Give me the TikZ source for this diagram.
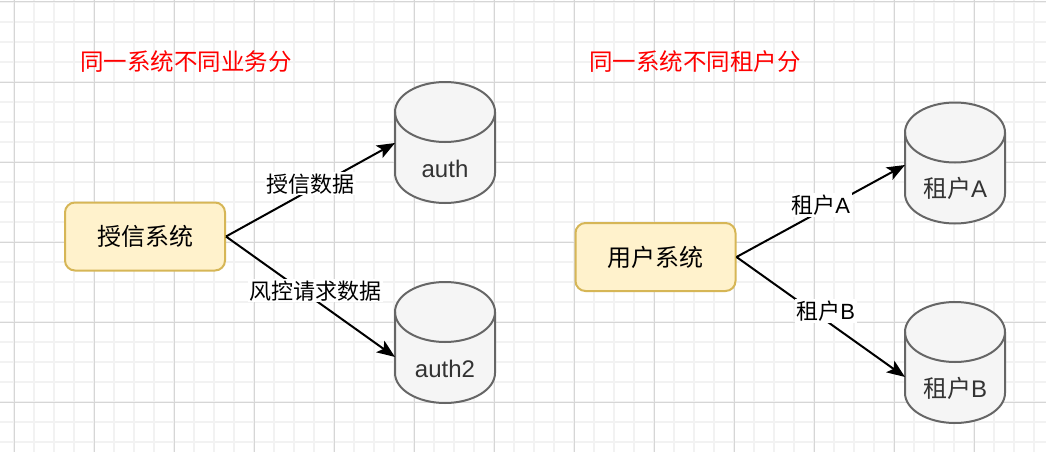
\documentclass[tikz,border=0pt]{standalone}
\usepackage{fontspec}
\setmainfont{Liberation Sans}
\newfontfamily\cjk{Noto Sans CJK SC}
\usepackage{tikz}
\usetikzlibrary{calc,arrows.meta}
\definecolor{note}{HTML}{FFF2CC}
\definecolor{noteedge}{HTML}{D6B656}
\definecolor{dbfill}{HTML}{F5F5F5}
\definecolor{dbedge}{HTML}{666666}
\definecolor{dbink}{HTML}{333333}
\definecolor{gridlt}{HTML}{F2F2F2}
\definecolor{griddk}{HTML}{D6D6D6}
\definecolor{alert}{HTML}{FF0000}

\tikzset{
  sysbox/.style={draw=noteedge, fill=note, line width=2pt, rounded corners=10pt,
    minimum width=160pt, minimum height=68pt, inner sep=0pt,
    font=\fontsize{24}{28}\selectfont\cjk},
  dbtext/.style={text=dbink, anchor=base, inner sep=0pt, font=\fontsize{24}{28}\selectfont},
  flow/.style={line width=2pt, -{Stealth[length=18pt,width=14pt,inset=4pt]}},
  flowlbl/.style={fill=white, inner sep=1.5pt, yshift=6pt, font=\fontsize{22}{26}\selectfont},
  heading/.style={text=alert, inner sep=0pt, font=\fontsize{23.5}{28}\selectfont\cjk},
  pics/dbcyl/.style={code={
    \filldraw[fill=dbfill, draw=dbedge, line width=2pt]
      (-50,30.5) -- (-50,-30.5) arc[start angle=180, end angle=360, x radius=50, y radius=30]
      -- (50,30.5) arc[start angle=0, end angle=180, x radius=50, y radius=30] -- cycle;
    \draw[dbedge, line width=2pt]
      (-50,30.5) arc[start angle=180, end angle=360, x radius=50, y radius=30];
  }}
}

\begin{document}
\begin{tikzpicture}[x=1pt, y=1pt, line join=round]
  \useasboundingbox (0,0) rectangle (1046,-452);
  \fill[white] (0,0) rectangle (1046,-452);
  % grid
  \foreach \gx in {14,34,...,1034} {\draw[gridlt, line width=1.5pt] (\gx,0) -- (\gx,-452);}
  \foreach \gy in {2,22,...,442} {\draw[gridlt, line width=1.5pt] (0,-\gy) -- (1046,-\gy);}
  \foreach \gx in {14,94,...,974} {\draw[griddk, line width=1pt] (\gx,0) -- (\gx,-452);}
  \foreach \gy in {2,82,...,402} {\draw[griddk, line width=1pt] (0,-\gy) -- (1046,-\gy);}

  % headings
  \node[heading] (headL) at (186,-62) {同一系统不同业务分};
  \node[heading] (headR) at (695,-62) {同一系统不同租户分};

  % systems
  \node[sysbox] (sxsys) at (145,-236.5) {授信系统};
  \node[sysbox] (usersys) at (655.5,-257) {用户系统};

  % databases
  \pic at (445,-142.5) {dbcyl};
  \pic at (445,-342.5) {dbcyl};
  \pic at (955,-163) {dbcyl};
  \pic at (955,-362.5) {dbcyl};
  \node[dbtext] (auth)  at (445,-177)   {auth};
  \node[dbtext] (auth2) at (445,-377)   {auth2};
  \node[dbtext] (tenA)  at (955,-197.5) {{\cjk 租户}A};
  \node[dbtext] (tenB)  at (955,-397)   {{\cjk 租户}B};

  % links
  \draw[flow] (sxsys.east) -- node[flowlbl] (lblauth) {\cjk 授信数据} ($(auth.base)+(-50,34)$);
  \draw[flow] (sxsys.east) -- node[flowlbl, xshift=5pt] (lblrisk) {\cjk 风控请求数据} ($(auth2.base)+(-50,20)$);
  \draw[flow] (usersys.east) -- node[flowlbl] (lbltenA) {{\cjk 租户}A} ($(tenA.base)+(-50,32.5)$);
  \draw[flow] (usersys.east) -- node[flowlbl, xshift=5pt] (lbltenB) {{\cjk 租户}B} ($(tenB.base)+(-50,20)$);
\end{tikzpicture}
\end{document}
